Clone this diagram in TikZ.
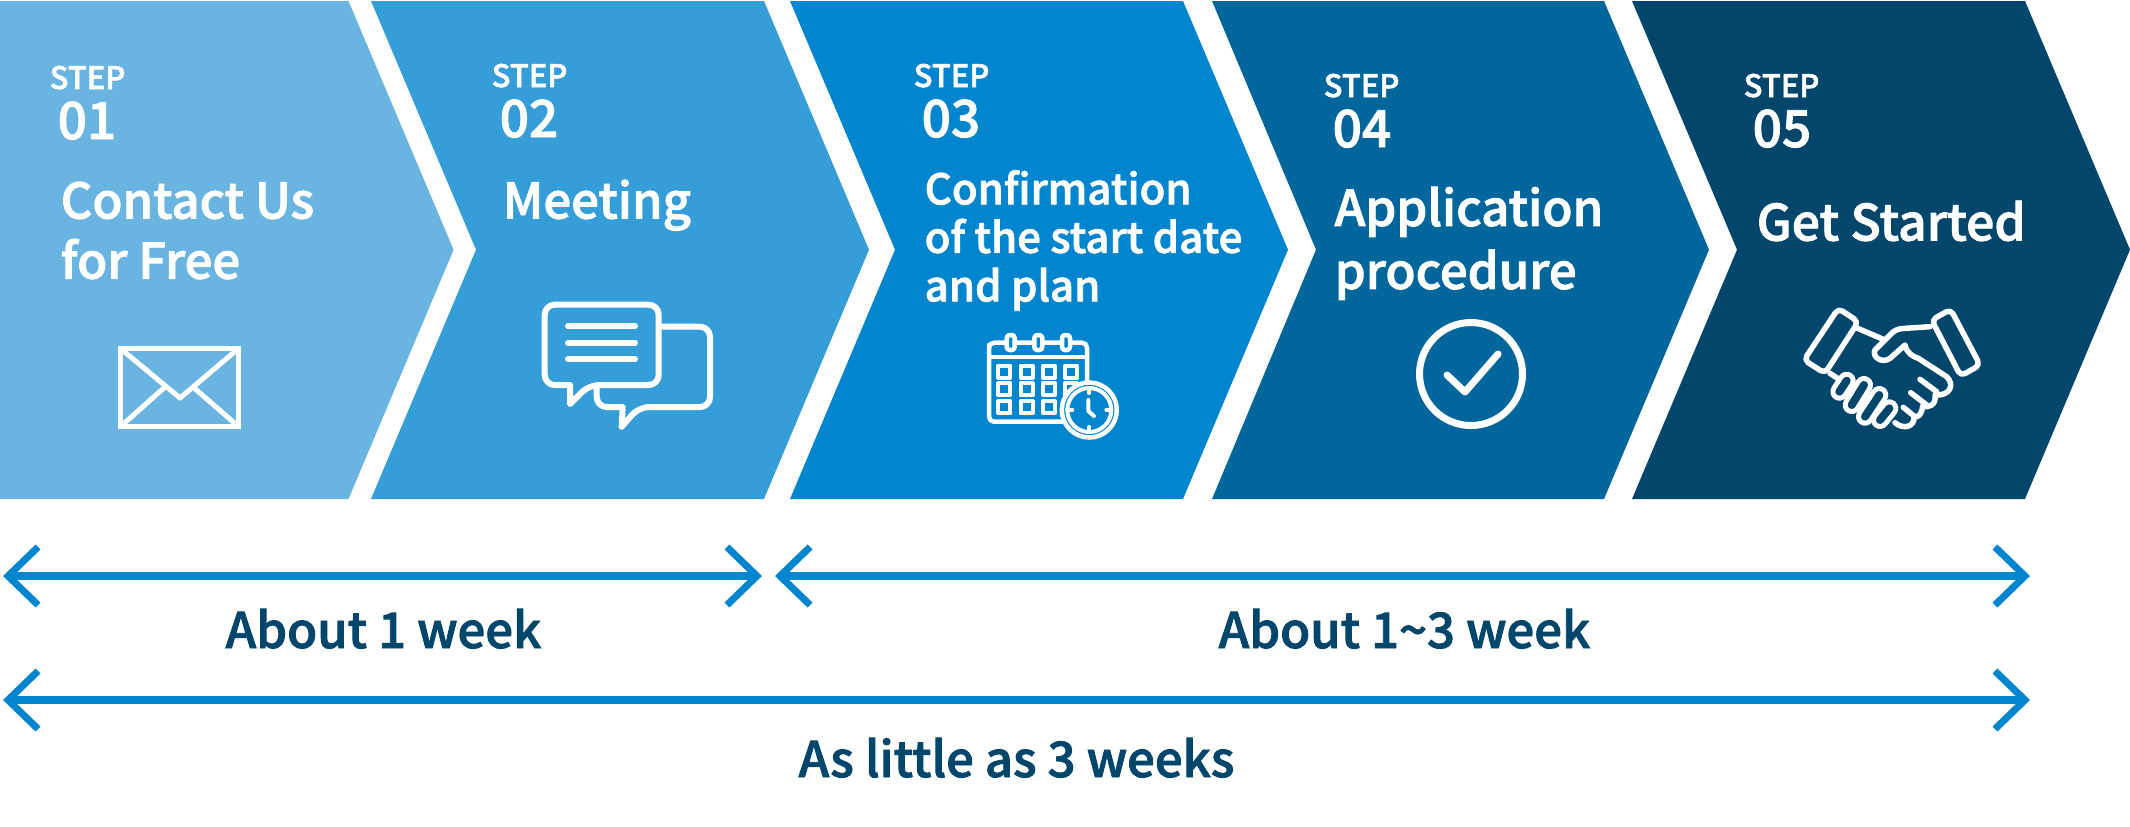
\documentclass[tikz,border=0pt]{standalone}
\usepackage{fontspec}
\setmainfont{Noto Sans CJK JP}[BoldFont={Noto Sans CJK JP Medium}, BoldFeatures={FakeBold=1.8}]
\usetikzlibrary{arrows.meta}
\definecolor{stepa}{HTML}{69B4E0}
\definecolor{stepb}{HTML}{359DD8}
\definecolor{stepc}{HTML}{0085CE}
\definecolor{stepd}{HTML}{01669C}
\definecolor{stepe}{HTML}{02466C}
\tikzset{
	steplabel/.style={anchor=base west, inner sep=0pt, text=white, font=\bfseries\fontsize{8.8}{10}\selectfont},
	stepnum/.style={anchor=base west, inner sep=0pt, text=white, font=\bfseries\fontsize{14.6}{16}\selectfont},
	steptitle/.style={anchor=north west, inner sep=0pt, align=left, text=white, font=\bfseries\fontsize{13.95}{17.1}\selectfont},
	stepsmall/.style={steptitle, font=\bfseries\fontsize{11.95}{13.8}\selectfont},
	steplarge/.style={steptitle, font=\bfseries\fontsize{14}{17.9}\selectfont},
	span/.style={line width=0.085cm, color=stepc, {Straight Barb[length=0.3cm, width=0.58cm, line width=0.07cm]}-{Straight Barb[length=0.3cm, width=0.58cm, line width=0.07cm]}},
	spanlabel/.style={anchor=base west, inner sep=0pt, text=stepe, font=\bfseries\fontsize{13.95}{16}\selectfont},
	icon/.style={draw=white, line width=0.06cm, line join=round, line cap=round},
}
\begin{document}
\begin{tikzpicture}[x=0.01cm, y=-0.01cm]
	\useasboundingbox (0, 0) rectangle (2130, 826);
	%%%%% CHEVRONS %%%%%
	\fill[stepa] (0, 1) -- (348.5, 1) -- (453.6, 249.7) -- (348.5, 499) -- (0, 499) -- cycle;
	\fill[stepb] (371, 1) -- (764, 1) -- (869, 249.7) -- (764, 499) -- (371, 499) -- (476, 249.7) -- cycle;
	\fill[stepc] (790, 1) -- (1183, 1) -- (1288, 249.7) -- (1183, 499) -- (790, 499) -- (895, 249.7) -- cycle;
	\fill[stepd] (1212, 1) -- (1604, 1) -- (1709, 249.7) -- (1604, 499) -- (1212, 499) -- (1316, 249.7) -- cycle;
	\fill[stepe] (1632, 1) -- (2025, 1) -- (2130, 249.7) -- (2025, 499) -- (1632, 499) -- (1737, 249.7) -- cycle;

	%%%%% TEXTS %%%%%
	\node[steplabel] (stepone) at (49, 89) {STEP};
	\node[stepnum] (numone) at (57, 139) {01};
	\node[steptitle] (titleone) at (60, 181) {Contact Us\\for Free};

	\node[steplabel] (steptwo) at (491, 87) {STEP};
	\node[stepnum] (numtwo) at (499, 137) {02};
	\node[steptitle] (titletwo) at (502, 179) {Meeting};

	\node[steplabel] (stepthree) at (913, 87) {STEP};
	\node[stepnum] (numthree) at (921, 137) {03};
	\node[stepsmall] (titlethree) at (924, 169.5) {Confirmation\\of the start date\\and plan};

	\node[steplabel] (stepfour) at (1323, 97) {STEP};
	\node[stepnum] (numfour) at (1332, 147) {04};
	\node[steplarge] (titlefour) at (1334, 186) {Application\\procedure};

	\node[steplabel] (stepfive) at (1743, 97) {STEP};
	\node[stepnum] (numfive) at (1752, 147) {05};
	\node[steptitle, font=\bfseries\fontsize{14.2}{17.1}\selectfont] (titlefive) at (1756, 200) {Get Started};

	%%%%% SPANS %%%%%
	\coordinate (weekl) at (3, 576);
	\coordinate (weekr) at (762, 576);
	\coordinate (monthl) at (775, 576);
	\coordinate (monthr) at (2030, 576);
	\coordinate (alll) at (3, 700);
	\coordinate (allr) at (2030, 700);
	\draw[span] (weekl) -- (weekr);
	\draw[span] (monthl) -- (monthr);
	\draw[span] (alll) -- (allr);
	\node[spanlabel] (weektext) at (225, 648) {About 1 week};
	\node[spanlabel] (monthtext) at (1218, 648) {About 1\textasciitilde3 week};
	\node[spanlabel] (alltext) at (798, 777) {As little as 3 weeks};

	%%%%% ENVELOPE %%%%%
	\draw[icon, line width=0.05cm, line cap=butt, line join=miter] (120.5, 348.5) rectangle (238.5, 426.5);
	\draw[icon, line width=0.05cm] (120.5, 348.5) -- (180, 398) -- (238.5, 348.5);
	\draw[icon, line width=0.05cm] (120.5, 426.5) -- (165, 387);
	\draw[icon, line width=0.05cm] (238.5, 426.5) -- (193, 387);

	%%%%% BUBBLES %%%%%
	\draw[icon] (570, 385) [rounded corners=0.1cm] -- (544.7, 385) -- (544.7, 304.7) -- (658.7, 304.7) -- (658.7, 385) -- (589, 385) [sharp corners] -- (570, 404) -- cycle;
	\draw[icon] (661.7, 326.7) [rounded corners=0.1cm] -- (710, 326.7) -- (710, 407) -- (639, 407) [sharp corners] -- (621.7, 426.7) -- (622.7, 407) [rounded corners=0.1cm] -- (596.7, 407) -- (596.7, 387);
	\foreach \y in {326, 342.7, 359.3}
		\draw[icon] (568, \y) -- (635, \y);

	%%%%% CALENDAR %%%%%
	\draw[icon, line width=0.045cm, rounded corners=0.05cm] (989, 350) -- (989, 421.7) -- (1087, 421.7) -- (1087, 342.7) -- (989, 342.7) -- cycle;
	\draw[icon, line width=0.045cm] (989, 357) -- (1087, 357);
	\foreach \x in {1010.7, 1038.3, 1066}
		\draw[icon, line width=0.045cm, fill=stepc, rounded corners=0.03cm] (\x-4, 335) rectangle (\x+4, 350);
	\foreach \x in {1004.3, 1026.7, 1049, 1071}
		\foreach \y in {371.7, 389.3, 407.3}
			\draw[icon, line width=0.04cm] (\x-6, \y-6) rectangle (\x+6, \y+6);
	\draw[icon, line width=0.045cm, fill=stepc] (1089.3, 410) circle (27.5);
	\draw[icon, line width=0.04cm] (1089.3, 410) circle (22);
	\draw[icon, line width=0.04cm] (1089.3, 388) -- (1089.3, 393);
	\draw[icon, line width=0.04cm] (1089.3, 432) -- (1089.3, 427);
	\draw[icon, line width=0.04cm] (1067.3, 410) -- (1072.3, 410);
	\draw[icon, line width=0.04cm] (1111.3, 410) -- (1106.3, 410);
	\draw[icon, line width=0.04cm] (1088.3, 400) -- (1088.3, 411) -- (1094, 416);

	%%%%% CHECK %%%%%
	\draw[icon, line width=0.07cm] (1471, 374) circle (51.5);
	\draw[icon, line width=0.07cm] (1447, 375) -- (1465, 392) -- (1498, 354);

	%%%%% HANDSHAKE %%%%%
	\begin{scope}[shift={(1790, 290)}, xscale=1/3, yscale=1/3]
		\draw[icon, line width=0.055cm, rounded corners=0.05cm] (145, 55) -- (205, 95) -- (105, 250) -- (42, 210) -- cycle;
		\draw[icon, line width=0.055cm, rounded corners=0.05cm] (425, 90) -- (482, 58) -- (570, 225) -- (512, 258) -- cycle;
		\draw[icon, line width=0.055cm] (203, 115) -- (280, 148);
		\draw[icon, line width=0.055cm] (120, 250) -- (150, 270);
		\draw[icon, line width=0.055cm] (420, 110) -- (345, 115) .. controls (325, 115) and (310, 122) .. (300, 135) -- (255, 180) .. controls (245, 200) and (275, 222) .. (300, 205) -- (345, 165) .. controls (350, 190) and (370, 200) .. (385, 205) -- (470, 260) .. controls (495, 285) and (480, 318) .. (435, 315) .. controls (440, 345) and (415, 355) .. (398, 348) .. controls (395, 375) and (385, 382) .. (372, 380) .. controls (375, 410) and (340, 420) .. (315, 398);
		\draw[icon, line width=0.055cm] (390, 268) -- (440, 305);
		\draw[icon, line width=0.055cm] (362, 308) -- (410, 345);
		\draw[icon, line width=0.055cm] (340, 352) -- (372, 378);
		\foreach \a/\b/\c/\d in {170/272/148/305, 222/285/185/345, 268/315/225/380, 298/355/270/390}
			\draw[white, line width=0.18cm, line cap=round] (\a, \b) -- (\c, \d);
		\foreach \a/\b/\c/\d in {170/272/148/305, 222/285/185/345, 268/315/225/380, 298/355/270/390}
			\draw[stepe, line width=0.08cm, line cap=round] (\a, \b) -- (\c, \d);
	\end{scope}
\end{tikzpicture}
\end{document}
